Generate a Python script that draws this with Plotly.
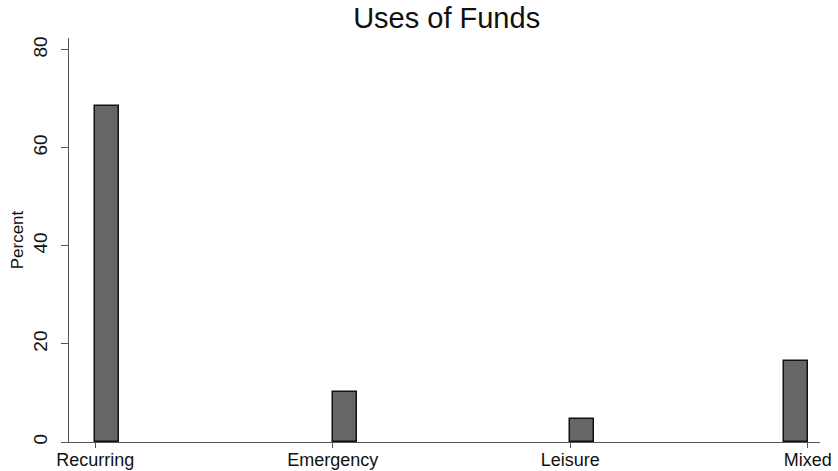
import plotly.graph_objects as go

# categories of fund use, coded 1..4 as in the source histogram
categories = ["Recurring", "Emergency", "Leisure", "Mixed"]
codes = [1, 2, 3, 4]
percent = [68.6, 10.2, 4.6, 16.5]
# bin alignment: last bin ends at the final code
bin_offset = [0, 0, 0, -0.1]

fig = go.Figure()
fig.add_trace(go.Bar(x=codes, y=percent, width=0.1, offset=bin_offset,
                     marker=dict(color="#666666", line=dict(color="#111111", width=1.5)),
                     showlegend=False))

fig.update_layout(
    width=838, height=471,
    margin=dict(l=69, r=18, t=38, b=29, autoexpand=False),
    paper_bgcolor="white", plot_bgcolor="white",
    font=dict(family="Liberation Sans, Arial, sans-serif", color="#111111", size=18),
    title=dict(text="Uses of Funds", x=0.533, xanchor="center", y=0.962, yanchor="middle",
               yref="container", font=dict(size=29)),
    bargap=0,
)
fig.update_xaxes(range=[0.889, 4.052], tickvals=codes, ticktext=categories, automargin=False,
                 showgrid=False, zeroline=False, showline=True, linecolor="#555555", linewidth=1,
                 ticks="outside", ticklen=5, tickcolor="#555555", tickfont=dict(size=18),
                 ticklabelstandoff=-4)
fig.update_yaxes(range=[0, 82.4], tickvals=[0, 20, 40, 60, 80], automargin=False,
                 showgrid=False, zeroline=False, showline=True, linecolor="#555555", linewidth=1,
                 ticks="outside", ticklen=7, tickcolor="#555555", tickangle=-90,
                 tickfont=dict(size=19), ticklabelstandoff=6,
                 title=dict(text="Percent", font=dict(size=17), standoff=2))

# drop the default page margin so the figure sits at the window's corner
fig.write_html("out.html", config={"displayModeBar": False},
               post_script="document.body.style.margin='0';")
